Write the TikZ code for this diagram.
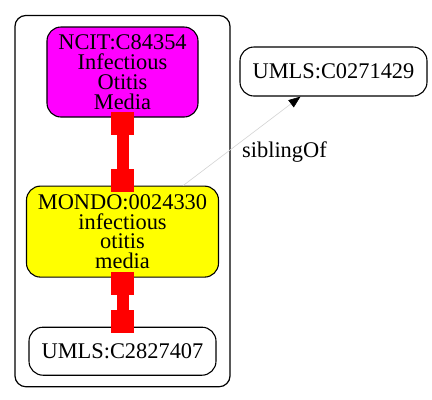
\documentclass[tikz,border=0pt]{standalone}
\usepackage{fontspec}
\setmainfont{Liberation Serif}
\usetikzlibrary{arrows.meta, positioning, fit, backgrounds}
\definecolor{ncitfill}{RGB}{255,0,255}
\definecolor{mondofill}{RGB}{255,255,0}
\definecolor{linkred}{RGB}{255,0,0}
\definecolor{siblingline}{RGB}{211,211,211}
\tikzset{
    termnode/.style={
        rectangle, rounded corners=14bp, draw=black, line width=1.1bp, fill=white,
        align=center, inner sep=0pt, font=\fontsize{22.4bp}{19.8bp}\selectfont
    },
    clusterbox/.style={
        rectangle, rounded corners=11bp, draw=black, line width=1.2bp, inner sep=11bp
    },
    redlink/.style={
        draw=linkred, line width=12bp,
        arrows={Square[length=23bp,width=23bp,line width=0pt]-Square[length=23bp,width=23bp,line width=0pt]},
        shorten <=-6bp, shorten >=-6bp
    },
    siblinglink/.style={draw=siblingline, line width=0.6bp, -{Triangle[length=12bp,width=9bp,color=black]}},
    edgelabel/.style={inner sep=0pt, font=\fontsize{22.4bp}{19.8bp}\selectfont}
}
\begin{document}
\begin{tikzpicture}[x=1bp, y=1bp]
\useasboundingbox (0,0) rectangle (432,-400);

% Cluster: three equivalent terms
\node[termnode, fill=ncitfill, minimum width=151bp, minimum height=90bp] (ncit) at (122.5,-72) {NCIT:C84354\\Infectious\\Otitis\\Media};
\node[termnode, fill=mondofill, minimum width=192bp, minimum height=91bp, below=68bp of ncit] (mondo) {MONDO:0024330\\infectious\\otitis\\media};
\node[termnode, minimum width=187bp, minimum height=48bp, below=49bp of mondo] (umlsa) {UMLS:C2827407};

% Outside the cluster
\node[termnode, minimum width=187bp, minimum height=49bp] (umlsb) at (333.5,-71.5) {UMLS:C0271429};

\begin{scope}[on background layer]
\node[clusterbox, fit=(ncit)(mondo)(umlsa)] (cluster) {};
\end{scope}

% Equivalence links
\draw[redlink] (ncit.south) -- (mondo.north);
\draw[redlink] (mondo.south) -- (umlsa.north);

% Sibling link
\draw[siblinglink] (mondo) -- node[edgelabel, pos=0.5, anchor=north west] (siblabel) {siblingOf} (umlsb);

\end{tikzpicture}
\end{document}
